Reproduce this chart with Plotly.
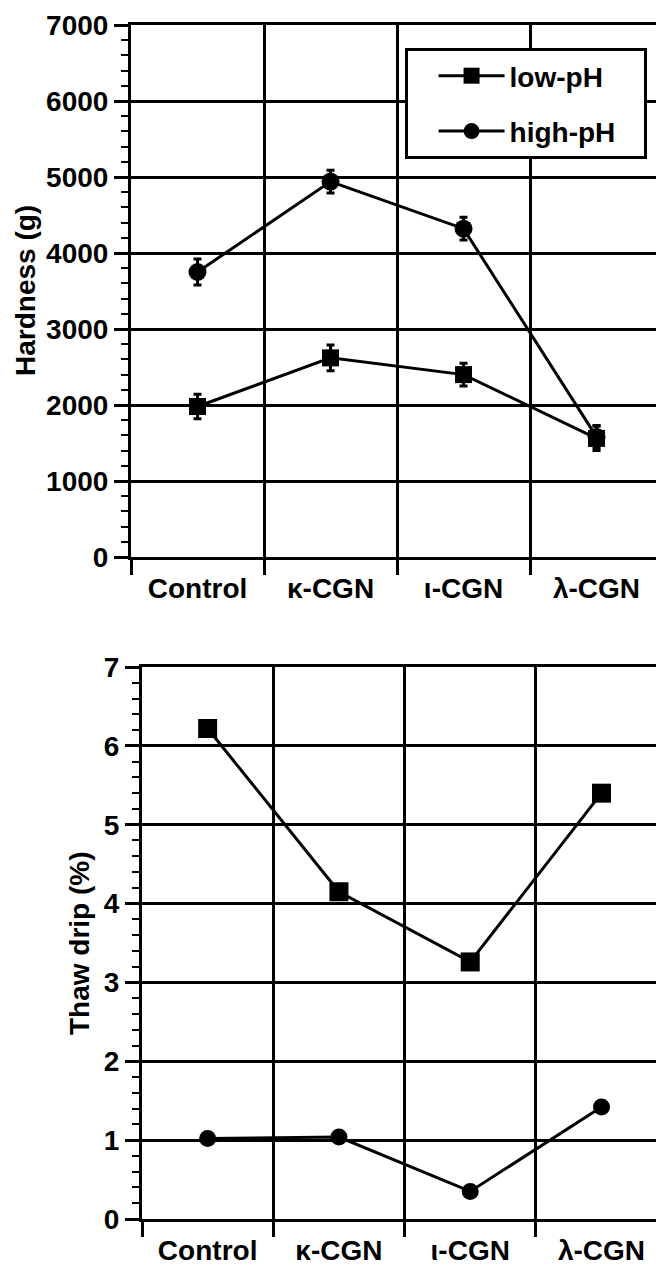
import plotly.graph_objects as go

# ---------------- data ----------------
categories = ["Control", "κ-CGN", "ι-CGN", "λ-CGN"]
series_names = ["low-pH", "high-pH"]

hardness_low = [1980, 2620, 2400, 1560]
hardness_low_err = [160, 170, 150, 160]
hardness_high = [3750, 4940, 4320, 1580]
hardness_high_err = [170, 150, 150, 150]

drip_low = [6.22, 4.15, 3.26, 5.40]
drip_high = [1.02, 1.04, 0.35, 1.42]

hard_ticks = [0, 1000, 2000, 3000, 4000, 5000, 6000, 7000]
drip_ticks = [0, 1, 2, 3, 4, 5, 6, 7]

# ---------------- style ----------------
W, H = 656, 1269
FONT = "Liberation Sans, Arial, Helvetica, sans-serif"
BLACK = "black"
NBSP = "\u00a0"
x_pos = list(range(len(categories)))
boundaries = [i - 0.5 for i in x_pos]
legend_names = [n + NBSP * 3 for n in series_names]

fig = go.Figure()

# top panel
fig.add_trace(go.Scatter(
    x=x_pos, y=hardness_low, name=legend_names[0], mode="lines+markers",
    line=dict(color=BLACK, width=3),
    marker=dict(symbol="square", size=17, color=BLACK),
    error_y=dict(type="data", array=hardness_low_err, color=BLACK, thickness=3, width=4),
    legendgroup="a", xaxis="x", yaxis="y"))
fig.add_trace(go.Scatter(
    x=x_pos, y=hardness_high, name=legend_names[1], mode="lines+markers",
    line=dict(color=BLACK, width=3),
    marker=dict(symbol="circle", size=18, color=BLACK),
    error_y=dict(type="data", array=hardness_high_err, color=BLACK, thickness=3, width=4),
    legendgroup="b", xaxis="x", yaxis="y"))

# bottom panel
fig.add_trace(go.Scatter(
    x=x_pos, y=drip_low, name=series_names[0], mode="lines+markers",
    line=dict(color=BLACK, width=3),
    marker=dict(symbol="square", size=19, color=BLACK),
    showlegend=False, xaxis="x2", yaxis="y2"))
fig.add_trace(go.Scatter(
    x=x_pos, y=drip_high, name=series_names[1], mode="lines+markers",
    line=dict(color=BLACK, width=3),
    marker=dict(symbol="circle", size=17, color=BLACK),
    showlegend=False, xaxis="x2", yaxis="y2"))

tickfont = dict(family=FONT, size=28, color=BLACK, weight="bold")


def xaxis_cfg(domain, rng, anchor):
    return dict(
        domain=domain, range=rng, anchor=anchor, automargin=False,
        tickmode="array", tickvals=x_pos, ticktext=categories,
        ticks="outside", ticklen=4, tickcolor="rgba(0,0,0,0)", tickwidth=1,
        tickfont=tickfont, showgrid=False, zeroline=False,
        showline=True, linecolor=BLACK, linewidth=3, mirror=True,
        minor=dict(tickmode="array", tickvals=boundaries, ticks="outside",
                   ticklen=15, tickwidth=3, tickcolor=BLACK,
                   showgrid=True, gridcolor=BLACK, gridwidth=2.5),
    )


def yaxis_cfg(domain, rng, ticks, minor_dtick, anchor):
    return dict(
        domain=domain, range=rng, anchor=anchor, automargin=False,
        tickmode="array", tickvals=ticks,
        ticks="outside", ticklen=14, tickwidth=3, tickcolor=BLACK,
        tickfont=tickfont, showgrid=True, gridcolor=BLACK, gridwidth=2.5,
        zeroline=False, showline=True, linecolor=BLACK, linewidth=3, mirror=False,
        minor=dict(dtick=minor_dtick, ticks="outside", ticklen=7, tickwidth=2,
                   tickcolor=BLACK, showgrid=False),
    )


fig.update_layout(
    width=W, height=H,
    margin=dict(l=0, r=0, t=0, b=0, autoexpand=False),
    paper_bgcolor="white", plot_bgcolor="white",
    font=dict(family=FONT, size=28, color=BLACK, weight="bold"),
    xaxis=xaxis_cfg([131 / W, 1], [-0.5, 3.447], "y"),
    yaxis=yaxis_cfg([1 - 557 / H, 1 - 25 / H], [0, 7000], hard_ticks, 200, "x"),
    xaxis2=xaxis_cfg([142 / W, 1], [-0.5, 3.415], "y2"),
    yaxis2=yaxis_cfg([1 - 1219 / H, 1 - 667 / H], [0, 7], drip_ticks, 0.2, "x2"),
    legend=dict(
        x=405 / W, y=1 - 48 / H, xanchor="left", yanchor="top",
        bgcolor="white", bordercolor=BLACK, borderwidth=3,
        font=dict(family=FONT, size=28, color=BLACK, weight="bold"),
        title=dict(text=NBSP * 2, side="left",
                   font=dict(family=FONT, size=28, color=BLACK)),
        tracegroupgap=16, itemwidth=66,
    ),
    showlegend=True,
    annotations=[
        dict(text="Hardness (g)", x=25 / W, y=1 - 291 / H, xref="paper", yref="paper",
             textangle=-90, showarrow=False, xanchor="center", yanchor="middle",
             font=dict(family=FONT, size=28, color=BLACK, weight="bold")),
        dict(text="Thaw drip (%)", x=79 / W, y=1 - 943 / H, xref="paper", yref="paper",
             textangle=-90, showarrow=False, xanchor="center", yanchor="middle",
             font=dict(family=FONT, size=28, color=BLACK, weight="bold")),
    ],
)

post = (
    "document.documentElement.style.margin='0';"
    "document.documentElement.style.overflow='hidden';"
    "document.body.style.margin='0';document.body.style.padding='0';"
    "document.body.style.overflow='hidden';"
    "var gd=document.getElementById('{plot_id}');"
    "gd.style.position='absolute';gd.style.left='0px';gd.style.top='0px';"
)

fig.write_html("out.html", post_script=post, config={"displayModeBar": False})
